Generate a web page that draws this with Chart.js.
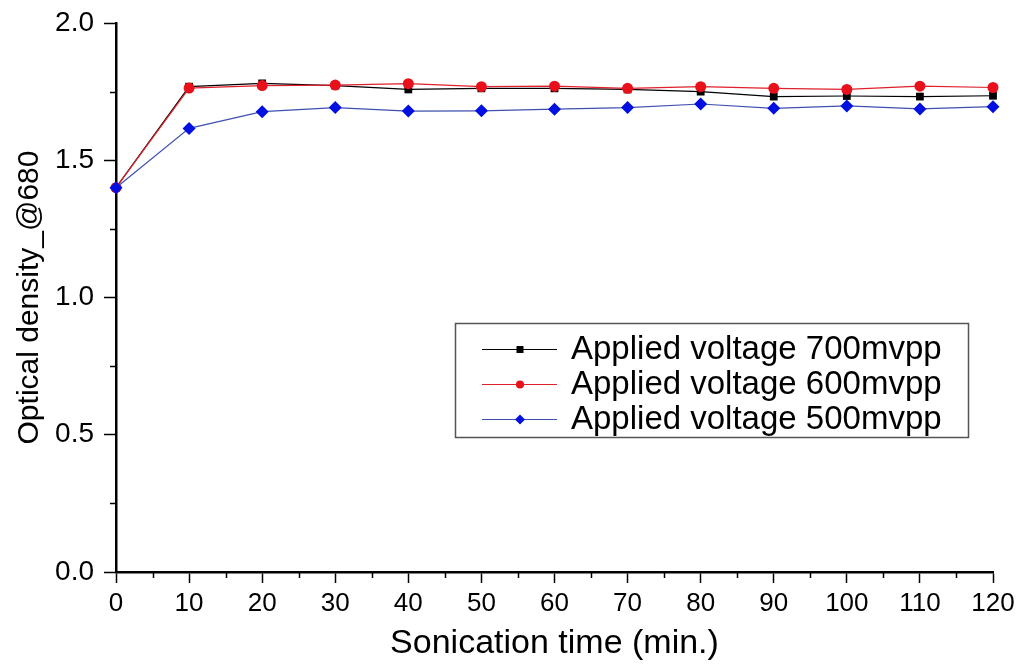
<!DOCTYPE html>
<html>
<head>
<meta charset="utf-8">
<script src="https://cdn.jsdelivr.net/npm/chart.js@4.4.0/dist/chart.umd.min.js"></script>
<style>
  html, body { margin: 0; padding: 0; background: #fff; }
  #wrap { width: 1022px; height: 664px; }
</style>
</head>
<body>
<div id="wrap"><canvas id="c" width="1022" height="664"></canvas></div>
<script>
const times = [0, 10, 20, 30, 40, 50, 60, 70, 80, 90, 100, 110, 120];
const v700 = [1.400, 1.768, 1.780, 1.772, 1.758, 1.762, 1.762, 1.758, 1.750, 1.732, 1.734, 1.732, 1.735];
const v600 = [1.400, 1.763, 1.772, 1.774, 1.779, 1.768, 1.770, 1.762, 1.768, 1.762, 1.758, 1.770, 1.765];
const v500 = [1.400, 1.616, 1.677, 1.692, 1.679, 1.680, 1.686, 1.692, 1.705, 1.689, 1.698, 1.687, 1.695];
const seriesLabels = ['Applied voltage 700mvpp', 'Applied voltage 600mvpp', 'Applied voltage 500mvpp'];
const xTitle = 'Sonication time (min.)';
const yTitle = 'Optical density_@680';

const FONT = "'Liberation Sans', Arial, sans-serif";

function pts(vals) { return times.map((t, i) => ({ x: t, y: vals[i] })); }

const minorTicks = {
  id: 'minorTicks',
  afterDraw(chart) {
    const ctx = chart.ctx;
    const xs = chart.scales.x, ys = chart.scales.y;
    ctx.save();
    ctx.strokeStyle = '#000';
    ctx.lineWidth = 1.5;
    ctx.beginPath();
    for (let v = 5; v < 120; v += 10) {
      const px = Math.round(xs.getPixelForValue(v)) + 0.5;
      ctx.moveTo(px, xs.top);
      ctx.lineTo(px, xs.top + 6);
    }
    for (let v = 0.25; v < 2; v += 0.5) {
      const py = Math.round(ys.getPixelForValue(v)) + 0.5;
      ctx.moveTo(ys.right, py);
      ctx.lineTo(ys.right - 6, py);
    }
    ctx.stroke();
    ctx.restore();
  }
};

function drawMarker(ctx, style, x, y, color) {
  ctx.fillStyle = color;
  ctx.beginPath();
  if (style === 'rect') {
    ctx.rect(x - 3.5, y - 3.5, 7, 7);
  } else if (style === 'circle') {
    ctx.arc(x, y, 4, 0, Math.PI * 2);
  } else {
    ctx.moveTo(x, y - 5); ctx.lineTo(x + 5, y); ctx.lineTo(x, y + 5); ctx.lineTo(x - 5, y); ctx.closePath();
  }
  ctx.fill();
}

const boxLegend = {
  id: 'boxLegend',
  afterDraw(chart) {
    const ctx = chart.ctx;
    const L = 455, T = 323, R = 968, B = 437;
    ctx.save();
    ctx.fillStyle = '#fff';
    ctx.fillRect(L, T, R - L, B - T);
    ctx.strokeStyle = '#555';
    ctx.lineWidth = 1.5;
    ctx.strokeRect(L + 0.5, T + 0.5, R - L, B - T);
    const rows = [349, 384, 419];
    chart.data.datasets.forEach((ds, i) => {
      const y = rows[i];
      ctx.strokeStyle = ds.borderColor;
      ctx.lineWidth = 1.2;
      ctx.beginPath();
      ctx.moveTo(482, y + 0.5);
      ctx.lineTo(557, y + 0.5);
      ctx.stroke();
      drawMarker(ctx, ds.pointStyle, 520, y + 0.5, ds.pointBackgroundColor);
      ctx.fillStyle = '#000';
      ctx.font = '33px ' + FONT;
      ctx.textBaseline = 'middle';
      ctx.textAlign = 'left';
      ctx.fillText(ds.label, 571, y + 1);
    });
    ctx.restore();
  }
};

new Chart(document.getElementById('c'), {
  type: 'line',
  data: {
    datasets: [
      { label: seriesLabels[0], data: pts(v700), borderColor: '#000000', borderWidth: 1.2,
        pointStyle: 'rect', pointRadius: 5.5, pointBackgroundColor: '#000000', pointBorderWidth: 0, order: 3, clip: false },
      { label: seriesLabels[1], data: pts(v600), borderColor: '#e0202a', borderWidth: 1.2,
        pointStyle: 'circle', pointRadius: 5.5, pointBackgroundColor: '#e8101a', pointBorderWidth: 0, order: 2, clip: false },
      { label: seriesLabels[2], data: pts(v500), borderColor: '#4050b0', borderWidth: 1.2,
        pointStyle: 'rectRot', pointRadius: 6.5, pointBackgroundColor: '#0010e0', pointBorderWidth: 0, order: 1, clip: false }
    ]
  },
  options: {
    responsive: false,
    animation: false,
    events: [],
    layout: { padding: { top: 23, right: 29, left: 0, bottom: 0 } },
    plugins: { legend: { display: false }, tooltip: { enabled: false } },
    scales: {
      x: {
        type: 'linear', min: 0, max: 120,
        ticks: { stepSize: 10, color: '#000', font: { family: FONT, size: 26 }, padding: 5, maxRotation: 0 },
        grid: { display: true, drawOnChartArea: false, drawTicks: true, tickLength: 11, tickColor: '#000', tickWidth: 1.5 },
        border: { display: true, color: '#000', width: 2.5 },
        title: { display: true, text: xTitle, color: '#000', font: { family: FONT, size: 34 }, padding: { top: 5, bottom: 0 } },
        afterFit(s) { s.height = 92; s.paddingLeft = 0; s.paddingRight = 0; }
      },
      y: {
        type: 'linear', min: 0, max: 2,
        ticks: { stepSize: 0.5, color: '#000', font: { family: FONT, size: 28 }, padding: 10,
                 callback: v => Number(v).toFixed(1) },
        grid: { display: true, drawOnChartArea: false, drawTicks: true, tickLength: 12, tickColor: '#000', tickWidth: 1.5 },
        border: { display: true, color: '#000', width: 2.5 },
        title: { display: true, text: yTitle, color: '#000', font: { family: FONT, size: 30 }, padding: { top: 12, bottom: 0 } },
        afterFit(s) { s.width = 116; s.paddingTop = 0; s.paddingBottom = 0; }
      }
    }
  },
  plugins: [minorTicks, boxLegend]
});
</script>
</body>
</html>
